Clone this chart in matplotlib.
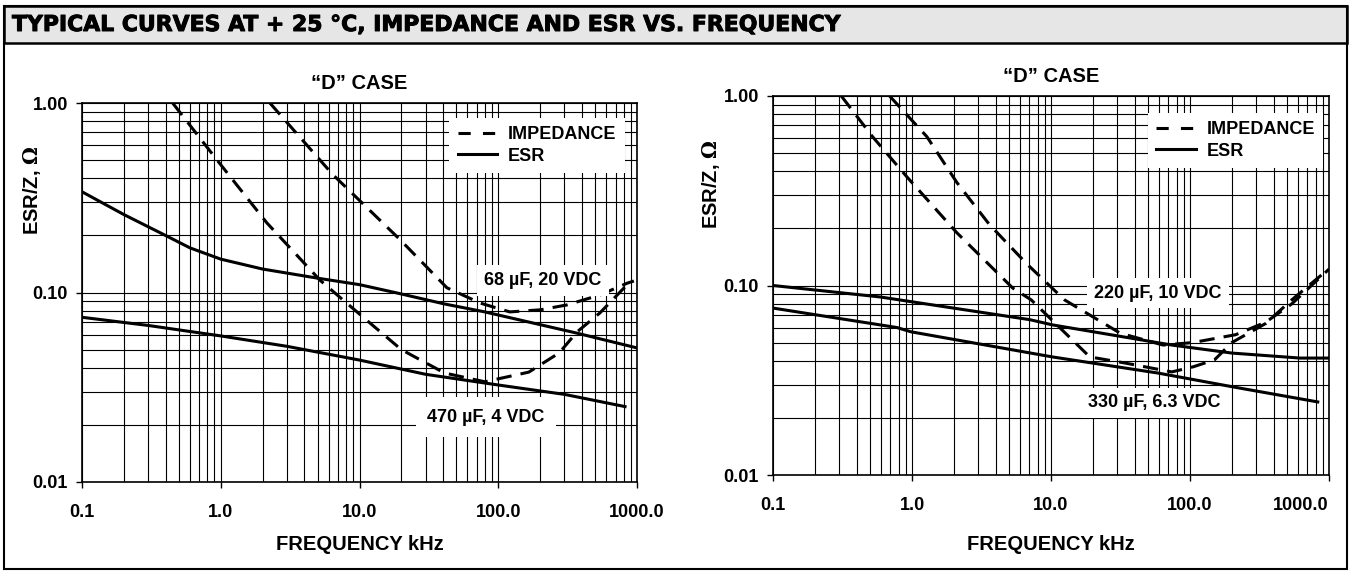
import matplotlib
matplotlib.use('Agg')
import matplotlib.pyplot as plt
import matplotlib.patheffects as pe
from matplotlib.patches import Rectangle
from matplotlib.lines import Line2D
from matplotlib.ticker import FixedLocator, FixedFormatter, NullFormatter

plt.rcParams['font.family'] = ['Liberation Sans', 'DejaVu Sans']
plt.rcParams['font.weight'] = 'bold'

# ---- data ----
freq_ticks = [0.1, 1, 10, 100, 1000]
freq_labels = ['0.1', '1.0', '10.0', '100.0', '1000.0']
z_ticks = [0.01, 0.1, 1.0]
z_labels = ['0.01', '0.10', '1.00']

# left chart: 68 uF / 20 VDC and 470 uF / 4 VDC
esr68_f = [0.1, 0.2, 0.4, 0.6, 1.0, 2.0, 5.0, 10, 18, 41, 80, 370, 1000]
esr68_z = [0.34, 0.258, 0.2, 0.172, 0.15, 0.133, 0.119, 0.11, 0.1, 0.087, 0.079, 0.061, 0.051]
imp68_f = [2.26, 6.4, 19.6, 42.6, 74, 121, 200, 313, 540, 850, 950]
imp68_z = [1.0, 0.42, 0.19, 0.106, 0.088, 0.079, 0.081, 0.086, 0.097, 0.112, 0.115]

esr470_f = [0.1, 0.3, 1.0, 3.0, 10, 30, 100, 300, 820]
esr470_z = [0.074, 0.067, 0.059, 0.052, 0.044, 0.037, 0.0325, 0.029, 0.025]
imp470_f = [0.45, 0.94, 2.15, 5.2, 11.9, 20, 41, 80, 166, 275, 370, 540, 850, 900]
imp470_z = [1.0, 0.5, 0.233, 0.116, 0.069, 0.05, 0.0376, 0.0338, 0.038, 0.048, 0.062, 0.078, 0.11, 0.115]

# right chart: 220 uF / 10 VDC and 330 uF / 6.3 VDC
esr220_f = [0.1, 0.59, 7.06, 10.2, 74, 200, 620, 1000]
esr220_z = [0.1, 0.087, 0.066, 0.062, 0.0485, 0.044, 0.0414, 0.0414]
imp220_f = [0.69, 1.28, 2.1, 3.6, 6.7, 12.5, 31.5, 64, 105, 213, 350, 540, 1000]
imp220_z = [1.0, 0.61, 0.35, 0.21, 0.13, 0.084, 0.056, 0.0485, 0.05, 0.055, 0.064, 0.08, 0.122]

esr330_f = [0.1, 0.78, 0.98, 10.2, 59, 213, 830]
esr330_z = [0.076, 0.06, 0.057, 0.042, 0.0345, 0.029, 0.0243]
imp330_f = [0.31, 0.52, 0.92, 2.1, 5.3, 7.2, 19, 34, 74, 105, 150, 200, 350, 540, 900]
imp330_z = [1.0, 0.61, 0.374, 0.19, 0.097, 0.084, 0.042, 0.039, 0.035, 0.0372, 0.0405, 0.05, 0.063, 0.084, 0.115]

W, H = 1351, 571
LW = 2.2
DASH = (0, (5, 3))
FS_TICK = 13
FS_LABEL = 14.5


def setup_axes(ax):
    ax.set_xscale('log')
    ax.set_yscale('log')
    ax.set_xlim(0.1, 1000)
    ax.set_ylim(0.01, 1.0)
    ax.xaxis.set_major_locator(FixedLocator(freq_ticks))
    ax.xaxis.set_major_formatter(FixedFormatter(freq_labels))
    ax.yaxis.set_major_locator(FixedLocator(z_ticks))
    ax.yaxis.set_major_formatter(FixedFormatter(z_labels))
    ax.xaxis.set_minor_formatter(NullFormatter())
    ax.yaxis.set_minor_formatter(NullFormatter())
    ax.grid(True, which='both', color='black', lw=0.8)
    ax.set_axisbelow(True)
    ax.tick_params(which='minor', length=0)
    ax.tick_params(axis='x', which='major', length=4, width=1, pad=12, labelsize=FS_TICK)
    ax.tick_params(axis='y', which='major', length=4, width=1, pad=6, labelsize=FS_TICK)
    for s in ax.spines.values():
        s.set_linewidth(1.2)
    ax.set_title('\u201cD\u201d CASE', fontsize=FS_LABEL, fontweight='bold', pad=10)
    ax.set_xlabel('FREQUENCY kHz', fontsize=FS_LABEL, fontweight='bold')
    ax.set_ylabel(r'ESR/Z, $\Omega$', fontsize=FS_LABEL, fontweight='bold',
                  math_fontfamily='dejavuserif')


def add_legend(ax, anchor):
    handles = [Line2D([], [], color='black', lw=LW, ls=(0, (4.0, 4.0))),
               Line2D([], [], color='black', lw=LW)]
    leg = ax.legend(handles, ['IMPEDANCE', 'ESR'], loc='upper right',
                    bbox_to_anchor=anchor, fontsize=FS_TICK, frameon=True,
                    fancybox=False, handlelength=2.2, handletextpad=0.6,
                    labelspacing=0.25, borderpad=0.45, borderaxespad=0)
    leg.get_frame().set_facecolor('white')
    leg.get_frame().set_edgecolor('none')
    leg.get_frame().set_alpha(1)


def label(ax, x, y, s, pad):
    ax.text(x, y, s, ha='center', va='center', fontsize=FS_TICK, fontweight='bold', zorder=4,
            bbox=dict(facecolor='white', edgecolor='none', pad=pad))


fig = plt.figure(figsize=(W / 100, H / 100), dpi=100)

# header band + outer frame
fig.add_artist(Rectangle((4 / W, 1 - 43 / H), 1343 / W, 37 / H, transform=fig.transFigure,
                         facecolor='#e6e6e6', edgecolor='black', lw=1.8))
fig.add_artist(Rectangle((4 / W, 2 / H), 1343 / W, 563 / H, transform=fig.transFigure,
                         facecolor='none', edgecolor='black', lw=1.5))
fig.text(12 / W, 1 - 25 / H, 'TYPICAL CURVES AT + 25 \u00b0C, IMPEDANCE AND ESR VS. FREQUENCY',
         ha='left', va='center', fontsize=15.8, fontweight='bold',
         family=['DejaVu Sans'],
         path_effects=[pe.withStroke(linewidth=0.7, foreground='black')])

# left chart
ax1 = fig.add_axes([82 / W, (H - 482) / H, 555 / W, 379 / H])
setup_axes(ax1)
ax1.plot(esr68_f, esr68_z, color='black', lw=LW, zorder=3)
ax1.plot(esr470_f, esr470_z, color='black', lw=LW, zorder=3)
ax1.plot(imp68_f, imp68_z, color='black', lw=LW, ls=DASH, zorder=3)
ax1.plot(imp470_f, imp470_z, color='black', lw=LW, ls=DASH, zorder=3)
add_legend(ax1, (0.978, 0.96))
label(ax1, 210, 0.116, '68 \u00b5F, 20 VDC', 5)
label(ax1, 81.6, 0.022, '470 \u00b5F, 4 VDC', 8)
ax1.yaxis.set_label_coords(-0.07, 0.77)
ax1.xaxis.set_label_coords(0.5, -0.14)

# right chart
ax2 = fig.add_axes([773 / W, (H - 475) / H, 556 / W, 379 / H])
setup_axes(ax2)
ax2.plot(esr220_f, esr220_z, color='black', lw=LW, zorder=3)
ax2.plot(esr330_f, esr330_z, color='black', lw=LW, zorder=3)
ax2.plot(imp220_f, imp220_z, color='black', lw=LW, ls=DASH, zorder=3)
ax2.plot(imp330_f, imp330_z, color='black', lw=LW, ls=DASH, zorder=3)
add_legend(ax2, (0.99, 0.955))
label(ax2, 58.9, 0.0912, '220 \u00b5F, 10 VDC', 5)
label(ax2, 55, 0.024, '330 \u00b5F, 6.3 VDC', 5)
ax2.yaxis.set_label_coords(-0.092, 0.768)
ax2.xaxis.set_label_coords(0.5, -0.158)
# last frequency label sits inside the frame
ax2.xaxis.get_major_ticks()[-1].label1.set_horizontalalignment('right')

fig.savefig('out.png', dpi=100, facecolor='white')
